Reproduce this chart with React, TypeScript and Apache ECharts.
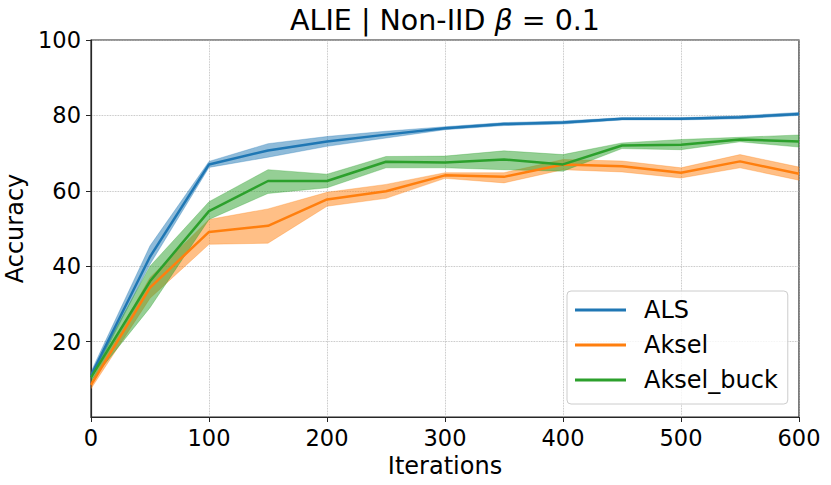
import React, { useEffect, useRef } from "react";
import * as echarts from "echarts";

const iterations = [0, 50, 100, 150, 200, 250, 300, 350, 400, 450, 500, 550, 600];

const alsMean = [11, 42.5, 67.0, 70.7, 73.1, 74.9, 76.6, 77.7, 78.1, 79.1, 79.1, 79.5, 80.4];
const alsLow = [10, 40.5, 66.2, 68.9, 71.8, 74.0, 76.2, 77.3, 77.7, 78.8, 78.8, 79.1, 80.0];
const alsHigh = [12, 45.4, 67.8, 72.5, 74.4, 75.8, 77.0, 78.1, 78.5, 79.4, 79.4, 79.9, 80.8];

const akselMean = [8.5, 34.3, 49.1, 50.7, 57.7, 59.9, 64.1, 63.7, 67.0, 66.5, 64.8, 67.8, 64.5];
const akselLow = [7.5, 31.5, 45.8, 46.1, 55.9, 58.0, 63.3, 62.1, 65.6, 65.0, 63.4, 66.1, 62.8];
const akselHigh = [9.5, 37.0, 52.4, 55.2, 59.6, 61.7, 64.8, 64.8, 68.3, 67.9, 66.1, 69.6, 66.3];

const buckMean = [10.5, 36.0, 54.6, 62.6, 62.6, 67.7, 67.5, 68.3, 67.0, 72.0, 72.2, 73.6, 73.1];
const buckLow = [9.5, 29.0, 52.4, 59.3, 60.8, 66.1, 66.1, 65.6, 65.2, 71.2, 70.9, 73.0, 71.6];
const buckHigh = [11.5, 40.0, 57.1, 65.6, 64.4, 69.1, 69.2, 70.6, 69.6, 72.7, 73.6, 74.2, 74.8];

const yTicks = [20, 40, 60, 80, 100];

const FONT = "DejaVu Sans";

function bandSeries(name: string, low: number[], high: number[], color: string) {
  return {
    name: name + "_band",
    type: "custom",
    silent: true,
    clip: true,
    data: iterations.map((x, i) => [x, low[i], high[i]]),
    encode: { x: 0, y: [1, 2] },
    renderItem: (params: any, api: any) => {
      if (params.dataIndex !== 0) return null;
      const upper = iterations.map((x, i) => api.coord([x, high[i]]));
      const lower = iterations.map((x, i) => api.coord([x, low[i]])).reverse();
      return {
        type: "polygon",
        shape: { points: upper.concat(lower) },
        style: { fill: color, opacity: 0.5, stroke: color, lineWidth: 0.6 },
      };
    },
  };
}

function lineSeries(name: string, mean: number[], color: string) {
  return {
    name,
    type: "line",
    data: iterations.map((x, i) => [x, mean[i]]),
    symbol: "none",
    lineStyle: { color, width: 2.5 },
    itemStyle: { color },
  };
}

export default function App() {
  const ref = useRef<HTMLDivElement>(null);
  useEffect(() => {
    if (!ref.current) return;
    const chart = echarts.init(ref.current, null, { renderer: "svg" });
    const blue = "#1f77b4";
    const orange = "#ff7f0e";
    const green = "#2ca02c";
    chart.setOption({
      animation: false,
      grid: {
        left: 91,
        right: 32,
        top: 40,
        bottom: 68,
        outerBoundsMode: "none",
        containLabel: false,
        show: true,
        borderColor: "#262626",
        borderWidth: 1.2,
        backgroundColor: "transparent",
      },
      graphic: [
        {
          type: "text",
          x: 445,
          y: 20,
          z: 10,
          style: {
            text: "ALIE | Non-IID {i|β} = 0.1",
            font: `28.5px "${FONT}"`,
            fill: "#000",
            align: "center",
            verticalAlign: "middle",
            rich: {
              i: { fontStyle: "italic", fontSize: 28.5, fontFamily: FONT, fill: "#000" },
            },
          },
        },
      ],
      legend: {
        orient: "vertical",
        left: 567,
        top: 291,
        data: [
          { name: "ALS", icon: "rect" },
          { name: "Aksel", icon: "rect" },
          { name: "Aksel_buck", icon: "rect" },
        ],
        itemWidth: 51,
        itemHeight: 3,
        itemGap: 11,
        padding: [7, 10, 12, 8],
        backgroundColor: "rgba(255,255,255,0.8)",
        borderColor: "#cccccc",
        borderWidth: 1,
        borderRadius: 4,
        textStyle: {
          fontFamily: FONT,
          fontSize: 24,
          lineHeight: 24,
          color: "#000",
          padding: [0, 0, 0, 13],
        },
      },
      xAxis: {
        type: "value",
        min: 0,
        max: 600,
        interval: 100,
        name: "Iterations",
        nameLocation: "middle",
        nameGap: 35,
        nameTextStyle: { fontFamily: FONT, fontSize: 24, color: "#000" },
        axisLine: { show: true, lineStyle: { color: "#262626", width: 1.2 } },
        axisTick: { show: true, length: 5, lineStyle: { color: "#262626" } },
        axisLabel: { fontFamily: FONT, fontSize: 22.5, color: "#000", margin: 9 },
        splitLine: { show: true, lineStyle: { color: "#b0b0b0", type: "dotted", width: 0.8 } },
      },
      yAxis: {
        type: "value",
        min: 0,
        max: 100,
        interval: 20,
        name: "Accuracy",
        nameLocation: "middle",
        nameGap: 48,
        nameTextStyle: { fontFamily: FONT, fontSize: 24, color: "#000" },
        axisLine: { show: true, lineStyle: { color: "#262626", width: 1.2 } },
        axisTick: { show: true, length: 5, customValues: yTicks, lineStyle: { color: "#262626" } },
        axisLabel: {
          fontFamily: FONT,
          fontSize: 22.5,
          color: "#000",
          margin: 10,
          customValues: yTicks,
          formatter: (v: number) => (yTicks.includes(v) ? String(v) : ""),
        },
        splitLine: { show: true, lineStyle: { color: "#b0b0b0", type: "dotted", width: 0.8 } },
      },
      series: [
        bandSeries("ALS", alsLow, alsHigh, blue),
        lineSeries("ALS", alsMean, blue),
        bandSeries("Aksel", akselLow, akselHigh, orange),
        lineSeries("Aksel", akselMean, orange),
        bandSeries("Aksel_buck", buckLow, buckHigh, green),
        lineSeries("Aksel_buck", buckMean, green),
      ],
    });
    return () => chart.dispose();
  }, []);
  return (
    <div
      ref={ref}
      style={{ position: "absolute", left: 0, top: 0, width: 831, height: 485, background: "#fff" }}
    />
  );
}
